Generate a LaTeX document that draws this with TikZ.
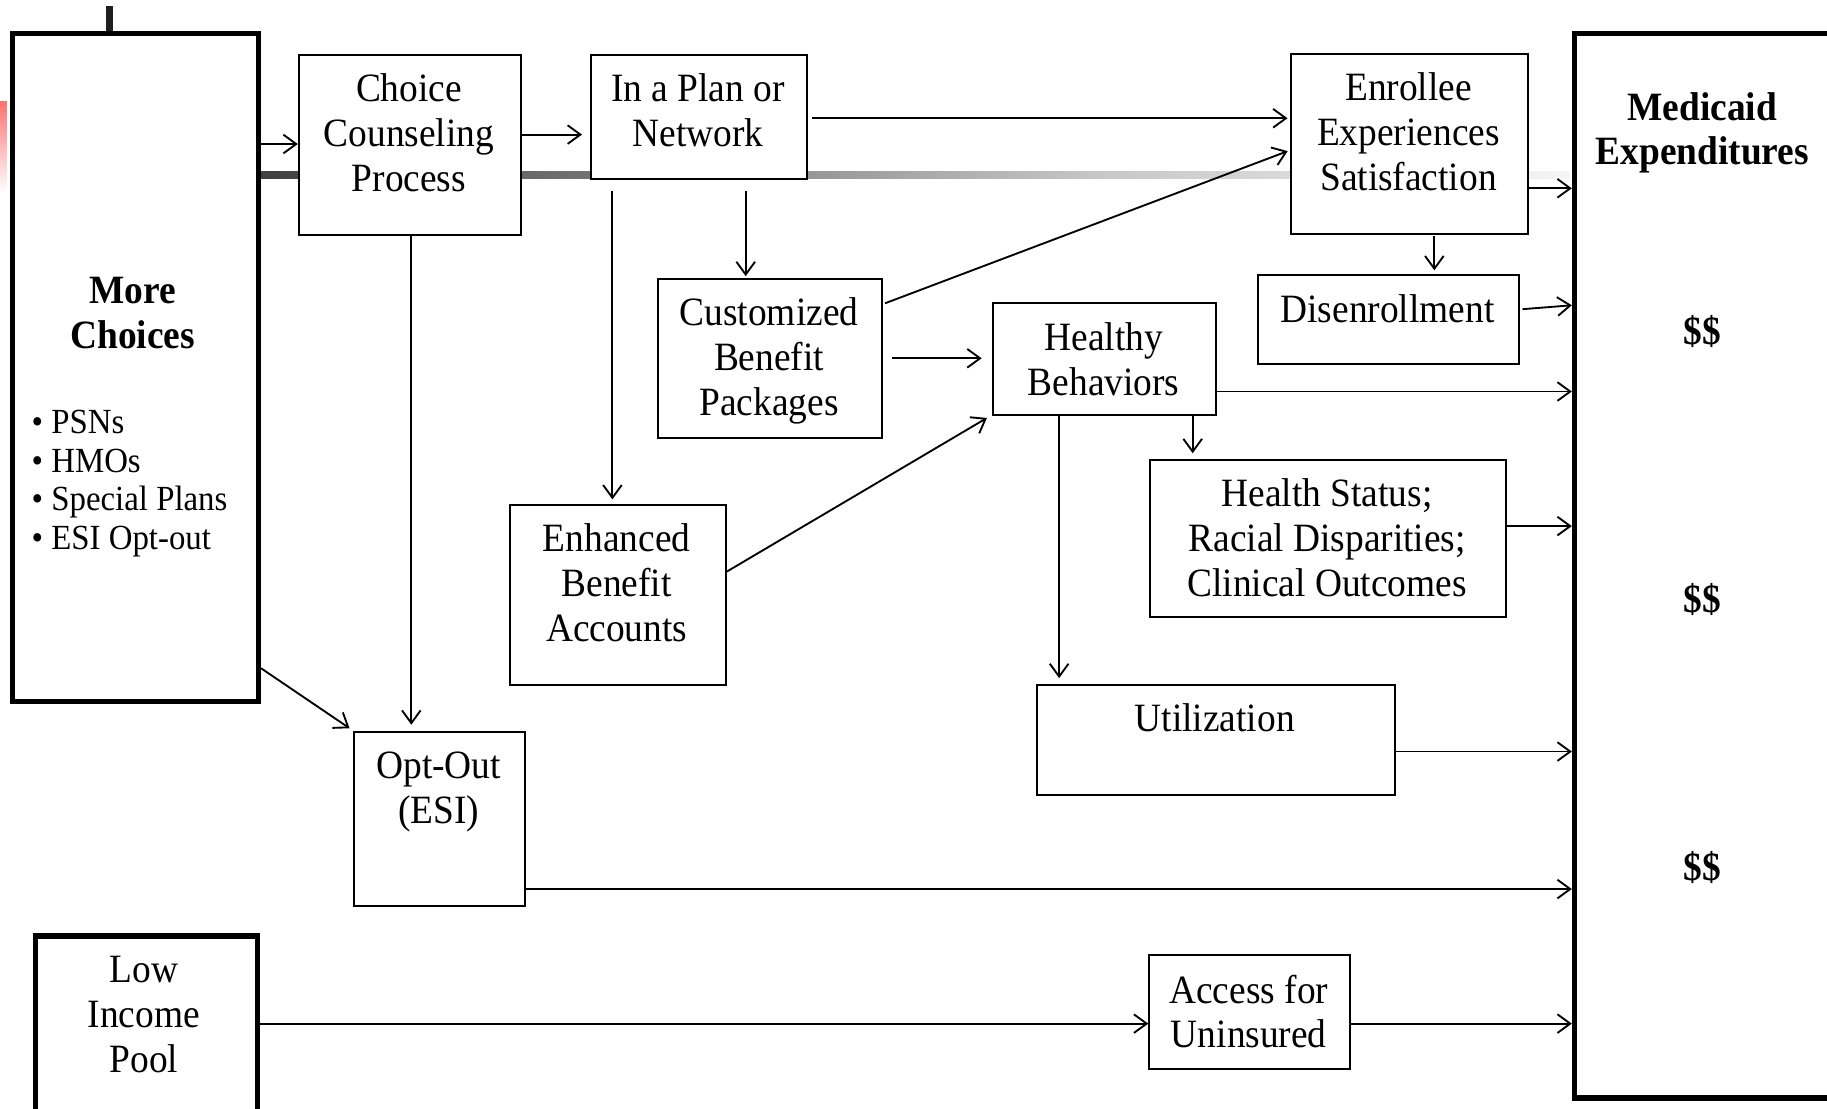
\documentclass[tikz,border=0pt]{standalone}
\usepackage{fontspec}
\setmainfont{Liberation Serif}[FakeStretch=0.93]
\usetikzlibrary{arrows.meta}
\begin{document}
\begin{tikzpicture}[x=1pt,y=-1pt,
  box/.style={draw=black, line width=1.7pt, fill=white, inner sep=0pt, anchor=north west},
  thickbox/.style={box, line width=4.5pt},
  txt/.style={align=center, inner sep=0pt, anchor=north, font=\fontsize{34.5pt}{38.4pt}\selectfont, execute at begin node={\rule{0pt}{24pt}}},
  btxt/.style={txt, font=\fontsize{34.5pt}{38.4pt}\selectfont\bfseries},
  arr/.style={line width=1.6pt, -{Straight Barb[length=11pt,width=16pt]}}]
\useasboundingbox (0,0) rectangle (1568,951);
\clip (0,0) rectangle (1568,951);
% decorations
\shade[top color={rgb,255:red,255;green,115;blue,115}, bottom color=white] (0,87.5) rectangle (6,165);
\shade[left color=black!75, right color=black!55] (220,147.5) rectangle (507,153.5);
\shade[left color=black!55, right color=black!22] (507,147.5) rectangle (944,153.5);
\shade[left color=black!22, right color=black!4] (944,147.5) rectangle (1347,153.5);
% boxes
\node[thickbox, minimum width=210.9pt, minimum height=573.5pt] (more) at (8.6,26.5) {};
\node[box, minimum width=190.9pt, minimum height=154.6pt] (choice) at (255.6,46.4) {};
\node[box, minimum width=185pt, minimum height=106.4pt] (inplan) at (506.5,46.4) {};
\node[box, minimum width=203.6pt, minimum height=154.5pt] (enroll) at (1107,45.2) {};
\node[thickbox, minimum width=291pt, minimum height=913.5pt] (medic) at (1349,26.5) {};
\node[box, minimum width=192pt, minimum height=136pt] (cust) at (564,239) {};
\node[box, minimum width=224.5pt, minimum height=76.7pt] (disen) at (1078.5,235) {};
\node[box, minimum width=191.5pt, minimum height=96pt] (healthy) at (851.5,259) {};
\node[box, minimum width=306pt, minimum height=135pt] (status) at (986,394) {};
\node[box, minimum width=185.5pt, minimum height=154.4pt] (enh) at (436.5,432.6) {};
\node[box, minimum width=307pt, minimum height=94.7pt] (util) at (889,587) {};
\node[box, minimum width=147pt, minimum height=150pt] (optout) at (303,627) {};
\node[thickbox, minimum width=191pt, minimum height=199pt] (low) at (28,801) {};
\node[box, minimum width=172.5pt, minimum height=97.3pt] (access) at (985.5,819) {};
\draw[line width=5.5pt, black!88] (more.north -| 94,0) -- (94,5);
% texts
\node[btxt] (moreT) at (114,238) {More\\Choices};
\node[txt, anchor=north west, align=left, font=\fontsize{30.3pt}{33pt}\selectfont, execute at begin node={\rule{0pt}{22pt}}] (bullets) at (27,352) {• PSNs\\• HMOs\\• Special Plans\\• ESI Opt-out};
\node[txt] (choiceT) at (351,63.3) {Choice\\Counseling\\Process};
\node[txt] (inplanT) at (599,63.3) {In a Plan or\\Network};
\node[txt] (enrollT) at (1208.8,62.5) {Enrollee\\Experiences\\Satisfaction};
\node[btxt] (medicT) at (1461,79) {Medicaid\\Expenditures};
\node[btxt, anchor=base] (d1) at (1461,295.5) {\$\$};
\node[btxt, anchor=base] (d2) at (1461,525.5) {\$\$};
\node[btxt, anchor=base] (d3) at (1461,755.5) {\$\$};
\node[txt] (custT) at (660,255.5) {Customized\\Benefit\\Packages};
\node[txt] (disenT) at (1190.75,253) {Disenrollment};
\node[txt] (healthyT) at (947.25,276.5) {Healthy\\Behaviors};
\node[txt] (statusT) at (1139,410.8) {Health Status;\\Racial Disparities;\\Clinical Outcomes};
\node[txt] (enhT) at (529.25,449.5) {Enhanced\\Benefit\\Accounts};
\node[txt] (utilT) at (1042.5,603.5) {Utilization};
\node[txt] (optoutT) at (376.5,645) {Opt-Out\\(ESI)};
\node[txt] (lowT) at (123.5,820.5) {Low\\Income\\Pool};
\node[txt] (accessT) at (1071.75,836.5) {Access for\\Uninsured};
% connectors
\draw[arr] (more.east |- 0,123.6) -- (choice.west |- 0,123.6);
\draw[arr, shorten >=7pt] (choice.east |- 0,115.5) -- (inplan.west |- 0,115.5);
\draw[arr, shorten <=4pt, shorten >=2pt] (inplan.east |- 0,101.5) -- (enroll.west |- 0,101.5);
\draw[arr, shorten <=2pt, shorten >=2pt] (cust.east |- 0,261) -- (enroll.west |- 0,129);
\draw[arr] (enroll.east |- 0,161.6) -- (medic.west |- 0,161.6);
\draw[arr, shorten <=1pt, shorten >=3pt] (enroll.south -| 1231,0) -- (disen.north -| 1231,0);
\draw[arr, shorten <=2pt] (disen.east |- 0,265.5) -- (medic.west |- 0,262);
\draw[arr, shorten <=9pt, shorten >=2pt] (inplan.south -| 640,0) -- (cust.north -| 640,0);
\draw[arr, shorten <=9pt, shorten >=4pt] (inplan.south -| 525.6,0) -- (enh.north -| 525.6,0);
\draw[arr, shorten <=8pt, shorten >=9pt] (cust.east |- 0,307.5) -- (healthy.west |- 0,307.5);
\draw[arr] (enh.east |- 0,490.6) -- ([shift={(-4.5,2)}]healthy.south west);
\draw[arr] (healthy.east |- 0,336) -- (medic.west |- 0,336);
\draw[arr, shorten >=5pt] (healthy.south -| 1023.6,0) -- (status.north -| 1023.6,0);
\draw[arr, shorten >=5pt] (healthy.south -| 909,0) -- (util.north -| 909,0);
\draw[arr] (status.east |- 0,451.5) -- (medic.west |- 0,451.5);
\draw[arr] (util.east |- 0,645) -- (medic.west |- 0,645);
\draw[arr] (optout.east |- 0,763) -- (medic.west |- 0,763);
\draw[arr] (low.east |- 0,878.5) -- (access.west |- 0,878.5);
\draw[arr] (access.east |- 0,878.5) -- (medic.west |- 0,878.5);
\draw[arr, shorten >=5pt] (choice.south -| 353,0) -- (optout.north -| 353,0);
\draw[arr] (more.east |- 0,573.5) -- ([shift={(-3,-2)}]optout.north west);
\end{tikzpicture}
\end{document}
